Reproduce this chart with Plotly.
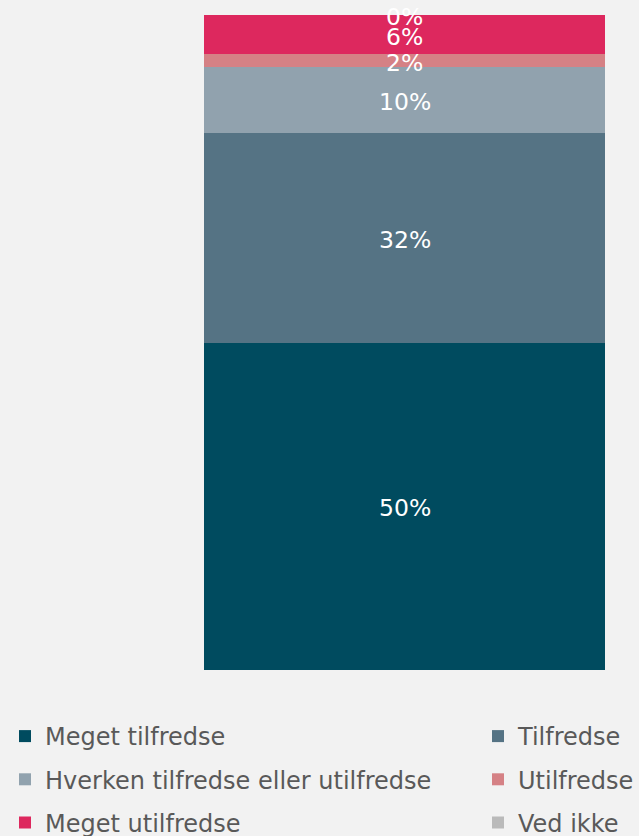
import plotly.graph_objects as go

categories = ["Alle"]
series_names = ["Meget tilfredse", "Tilfredse", "Hverken tilfredse eller utilfredse",
                "Utilfredse", "Meget utilfredse", "Ved ikke"]
series_values = [50, 32, 10, 2, 6, 0]
colors = ["#004B5F", "#557384", "#91A2AE", "#D58185", "#DD285E", "#BABABA"]
legend_of = ["legend", "legend2", "legend", "legend2", "legend", "legend2"]

FONT = "DejaVu Sans"
fig = go.Figure()
for name, val, col, lg in zip(series_names, series_values, colors, legend_of):
    fig.add_trace(go.Bar(
        x=categories, y=[val], name=name, marker=dict(color=col, line=dict(width=0)),
        legend=lg, legendgroup=name, hoverinfo="skip",
    ))

# value labels at segment centres (computed from data)
base = 0
for val in series_values:
    fig.add_annotation(x=categories[0], y=base + val / 2, text=f"{val}%", showarrow=False,
                       font=dict(family=FONT, size=23.5, color="white"),
                       xref="x", yref="y", yanchor="middle", yshift=-2)
    base += val

leg_common = dict(
    orientation="v", xref="container", yref="container", xanchor="left", yanchor="top",
    font=dict(family=FONT, size=24, color="#595959"), bgcolor="rgba(0,0,0,0)",
    traceorder="grouped", tracegroupgap=9, itemclick=False, itemdoubleclick=False,
)
fig.update_layout(
    barmode="stack", bargap=0,
    paper_bgcolor="#F2F2F2", plot_bgcolor="#F2F2F2",
    width=639, height=836,
    margin=dict(l=204, r=34, t=15, b=166, autoexpand=False),
    xaxis=dict(visible=False),
    yaxis=dict(visible=False, range=[0, 100]),
    showlegend=True,
    legend=dict(x=5 / 639, y=1 - 714 / 836, **leg_common),
    legend2=dict(x=478 / 639, y=1 - 714 / 836, **leg_common),
    font=dict(family=FONT),
)
fig.write_html("out.html", config={"displayModeBar": False},
               post_script="document.body.style.margin='0';")
